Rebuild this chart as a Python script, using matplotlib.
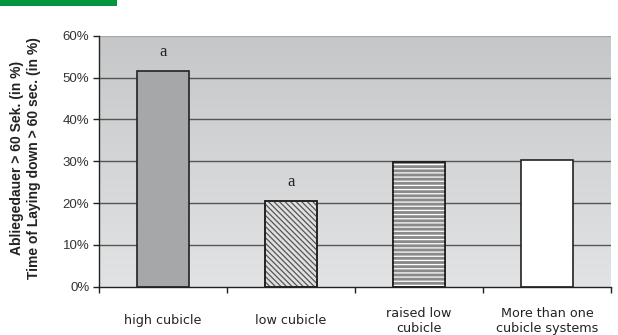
import numpy as np
import matplotlib
matplotlib.use("Agg")
import matplotlib.pyplot as plt
from matplotlib.patches import Rectangle
import matplotlib.transforms as mtransforms
from matplotlib.colors import LinearSegmentedColormap

categories = ["high cubicle", "low cubicle", "raised low\ncubicle", "More than one\ncubicle systems"]
values = [51.6, 20.6, 29.9, 30.2]
letters = ["a", "a", "", ""]
yticks = [0, 10, 20, 30, 40, 50, 60]
ylabel_lines = ["Abliegedauer > 60 Sek. (in %)", "Time of Laying down > 60 sec. (in %)"]

plt.rcParams['hatch.linewidth'] = 0.9

fig = plt.figure(figsize=(6.18, 3.35), dpi=100)
fig.patch.set_facecolor("white")
ax = fig.add_axes([99/618, 48.3/335, 512/618, 251/335])

# green banner
fig.patches.append(Rectangle((0, 1 - 6/335), 117/618, 6/335, transform=fig.transFigure,
                             facecolor="#00963f", edgecolor="none", zorder=5))

x = np.arange(len(categories))
ax.set_xlim(-0.5, len(categories) - 0.5)
ax.set_ylim(0, 60)

# gradient background
grad = np.linspace(0, 1, 256).reshape(-1, 1)
cmap = LinearSegmentedColormap.from_list("bg", ["#e2e3e4", "#c6c7c8"])
ax.imshow(grad, extent=[-0.5, len(categories) - 0.5, 0, 60], origin="lower",
          aspect="auto", cmap=cmap, zorder=0)

for yv in yticks[1:-1]:
    ax.axhline(yv, color="#555555", lw=1.0, zorder=1)
ax.axhline(60, color="#a8a8a8", lw=1.0, zorder=1)

faces = ["#a5a7a9", "#e0e0e0", "#8a8a8a", "white"]
hatches = [None, "\\\\\\\\\\\\", "----", None]
hatchcols = ["#333333", "#555555", "white", "#333333"]
width = 0.41
for i in range(len(categories)):
    ax.bar(x[i], values[i], width=width, color=faces[i], edgecolor="#222222",
           lw=1.2, zorder=2)
    if hatches[i]:
        ax.bar(x[i], values[i], width=width, facecolor="none", edgecolor=hatchcols[i],
               hatch=hatches[i], lw=0, zorder=3)
        ax.bar(x[i], values[i], width=width, facecolor="none", edgecolor="#222222",
               lw=1.2, zorder=4)
    if letters[i]:
        ax.text(x[i], values[i] + 2.5, letters[i], ha="center", va="bottom",
                fontsize=12, family="Liberation Serif", color="#222222")

ax.set_yticks(yticks)
ax.set_yticklabels([f"{v}%" for v in yticks], fontsize=9.5, color="#333333",
                   family="Liberation Sans")
ax.set_xticks(np.arange(len(categories) + 1) - 0.5)
ax.set_xticklabels([])
ax.tick_params(axis="both", direction="out", length=4, color="#222222", width=1)
ax.tick_params(axis="y", pad=3)

trans = mtransforms.blended_transform_factory(ax.transData, ax.transAxes)
for i, c in enumerate(categories):
    ax.text(x[i], -34/251, c, transform=trans, ha="center", va="center",
            fontsize=9.2, color="#222222", family="DejaVu Sans", linespacing=1.2)

for s in ["top", "right"]:
    ax.spines[s].set_visible(False)
for s in ["left", "bottom"]:
    ax.spines[s].set_color("#222222")
    ax.spines[s].set_linewidth(1.0)
    ax.spines[s].set_zorder(5)

fig.text(17/618, (335 - 158)/335, ylabel_lines[0], rotation=90, ha="center", va="center",
         fontsize=10, fontweight="bold", color="#222222", family="Liberation Sans")
fig.text(34/618, (335 - 158)/335, ylabel_lines[1], rotation=90, ha="center", va="center",
         fontsize=10, fontweight="bold", color="#222222", family="Liberation Sans")

fig.savefig("out.png", dpi=100)
